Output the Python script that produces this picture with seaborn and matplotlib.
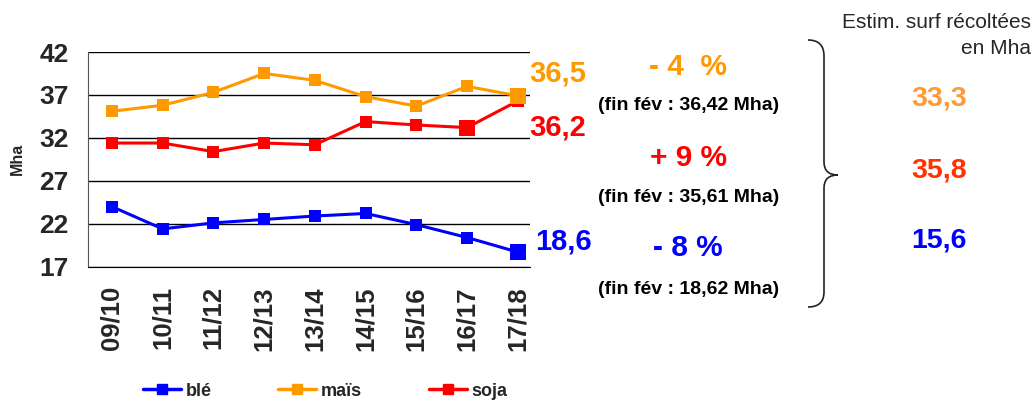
import numpy as np
import pandas as pd
import seaborn as sns
import matplotlib.pyplot as plt
from matplotlib.lines import Line2D
from matplotlib.path import Path
from matplotlib.patches import PathPatch

seasons = ['09/10', '10/11', '11/12', '12/13', '13/14', '14/15', '15/16', '16/17', '17/18']
ble = [24.0, 21.4, 22.1, 22.5, 22.9, 23.2, 21.9, 20.4, 18.7]
mais = [35.1, 35.8, 37.3, 39.5, 38.7, 36.8, 35.7, 38.0, 36.9]
soja = [31.4, 31.4, 30.4, 31.4, 31.2, 33.9, 33.5, 33.2, 36.3]
crops = ['blé', 'maïs', 'soja']
colors = {'blé': '#0000FF', 'maïs': '#FF9900', 'soja': '#FF0000'}
big_points = {'blé': [8], 'maïs': [8], 'soja': [7]}

last_labels = ['18,6', '36,5', '36,2']
change_labels = ['- 4  %', '+ 9 %', '- 8 %']
fin_fev_labels = ['(fin fév : 36,42 Mha)', '(fin fév : 35,61 Mha)', '(fin fév : 18,62 Mha)']
estim_labels = ['33,3', '35,8', '15,6']

df = pd.DataFrame({
    'season': seasons * 3,
    'crop': np.repeat(crops, len(seasons)),
    'value': ble + mais + soja,
    'idx': list(range(len(seasons))) * 3,
})

sns.set_style('white')
plt.rcParams['font.family'] = ['Liberation Sans', 'DejaVu Sans']

fig = plt.figure(figsize=(10.35, 4.0), dpi=100)
ax = fig.add_axes([88 / 1035, 1 - 266.7 / 400, (530 - 88) / 1035, (266.7 - 52) / 400])

for crop in crops:
    sub = df[df['crop'] == crop]
    sns.lineplot(data=sub, x='idx', y='value', color=colors[crop], marker='s',
                 markersize=8, markeredgewidth=0, linewidth=2.2, ax=ax, legend=False)
    big = sub[sub['idx'].isin(big_points[crop])]
    sns.scatterplot(data=big, x='idx', y='value', color=colors[crop], marker='s',
                    s=130, linewidth=0, ax=ax, legend=False, zorder=3)

ax.set_xlim(-0.47, 8.24)
ax.set_ylim(17, 42)
ax.set_yticks([17, 22, 27, 32, 37, 42])
ax.set_xticks(range(len(seasons)))
ax.set_xticklabels(seasons, rotation=90, fontsize=18.5, fontweight='bold')
ax.tick_params(axis='y', labelsize=19, length=0, pad=14)
ax.tick_params(axis='x', length=0, pad=14)
for lab in ax.get_yticklabels():
    lab.set_fontweight('bold')
ax.yaxis.grid(True, color='black', linewidth=1)
ax.set_axisbelow(True)
ax.set_xlabel('')
ax.set_ylabel('Mha', fontsize=11.5, fontweight='bold', labelpad=10)
sns.despine(ax=ax, top=True, right=True)
ax.spines['left'].set_color('#555555')
ax.spines['bottom'].set_color('black')

# overlay in pixel coordinates for the annotations
ov = fig.add_axes([0, 0, 1, 1])
ov.set_xlim(0, 1035)
ov.set_ylim(400, 0)
ov.axis('off')

for lab, y, c in zip(last_labels, [242, 73, 127], crops):
    x0 = 535 if c == 'blé' else 529
    ov.text(x0, y, lab, color=colors[c], fontsize=21, fontweight='bold',
            ha='left', va='center')

for lab, y, c in zip(change_labels, [67, 158, 248], ['maïs', 'soja', 'blé']):
    ov.text(688, y, lab, color=colors[c], fontsize=21.5, fontweight='bold',
            ha='center', va='center')

for lab, y in zip(fin_fev_labels, [106, 198, 290]):
    ov.text(689, y, lab, color='black', fontsize=14, fontweight='bold',
            ha='center', va='center')

ov.text(1031, 23, 'Estim. surf récoltées', fontsize=15, ha='right', va='center')
ov.text(1031, 48, 'en Mha', fontsize=15, ha='right', va='center')

for lab, y, c in zip(estim_labels, [98, 170, 241], ['#FF9933', '#FF3300', '#0000FF']):
    ov.text(939, y, lab, color=c, fontsize=20.5, fontweight='bold',
            ha='center', va='center')

# curly brace
verts = [(808, 40), (824, 40), (824, 56),
         (824, 162),
         (824, 175), (838, 175),
         (824, 175), (824, 188),
         (824, 292),
         (824, 307), (808, 307)]
codes = [Path.MOVETO, Path.CURVE3, Path.CURVE3,
         Path.LINETO,
         Path.CURVE3, Path.CURVE3,
         Path.CURVE3, Path.CURVE3,
         Path.LINETO,
         Path.CURVE3, Path.CURVE3]
ov.add_patch(PathPatch(Path(verts, codes), facecolor='none', edgecolor='#222222', linewidth=1.2))

handles = [Line2D([], [], color=colors[c], marker='s', markersize=7, linewidth=2.5) for c in crops]
fig.legend(handles, crops, loc='center', bbox_to_anchor=(325 / 1035, 1 - 391 / 400), ncol=3,
           frameon=False, prop={'weight': 'bold', 'size': 13}, handlelength=2.1,
           handletextpad=0.25, columnspacing=3.7)

fig.savefig('out.png', dpi=100)
